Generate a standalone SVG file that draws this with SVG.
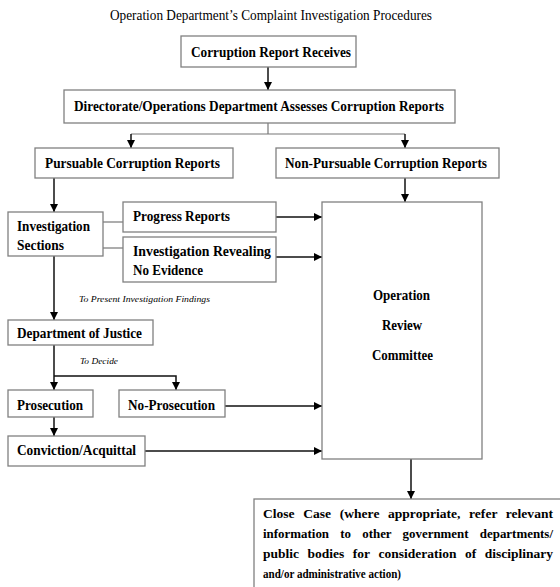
<svg xmlns="http://www.w3.org/2000/svg" width="560" height="587" viewBox="0 0 560 587">
<style>
  .box { fill: #ffffff; stroke: #808080; stroke-width: 1.3; }
  .lbl { font-family: "Liberation Serif", "Times New Roman", serif; font-weight: bold; font-size: 14px; fill: #000; }
  .body { font-family: "Liberation Serif", "Times New Roman", serif; font-weight: bold; font-size: 13px; fill: #000; }
  .title { font-family: "Liberation Serif", "Times New Roman", serif; font-size: 14px; fill: #000; }
  .note { font-family: "Liberation Serif", "Times New Roman", serif; font-style: italic; font-size: 9px; fill: #000; }
  .con { fill: none; stroke: #111; stroke-width: 1.5; }
  .stem { fill: none; stroke: #777; stroke-width: 1.2; }
</style>
<defs>
  <marker id="arr" markerUnits="userSpaceOnUse" markerWidth="8" markerHeight="8" refX="8" refY="4" orient="auto">
    <path d="M0,0 L8,4 L0,8 z" fill="#000"/>
  </marker>
</defs>
<rect width="560" height="587" fill="#ffffff"/>

<text class="title" x="110" y="20" textLength="322" lengthAdjust="spacingAndGlyphs">Operation Department’s Complaint Investigation Procedures</text>

<g id="connectors">
  <line class="con" x1="268" y1="67" x2="268" y2="90" marker-end="url(#arr)"/>
  <polyline class="stem" points="268,123 268,134"/>
  <polyline class="stem" points="131,134 405,134"/>
  <line class="con" x1="131" y1="134" x2="131" y2="148" marker-end="url(#arr)"/>
  <line class="con" x1="405" y1="134" x2="405" y2="148" marker-end="url(#arr)"/>
  <line class="con" x1="54" y1="178" x2="54" y2="212" marker-end="url(#arr)"/>
  <line class="con" x1="405" y1="178" x2="405" y2="202" marker-end="url(#arr)"/>
  <line class="stem" x1="103" y1="222" x2="123" y2="222"/>
  <line class="stem" x1="103" y1="248" x2="123" y2="248"/>
  <line class="con" x1="276" y1="217" x2="322" y2="217" marker-end="url(#arr)"/>
  <line class="con" x1="276" y1="257" x2="322" y2="257" marker-end="url(#arr)"/>
  <line class="con" x1="54" y1="256" x2="54" y2="320" marker-end="url(#arr)"/>
  <line class="con" x1="54" y1="345" x2="54" y2="390" marker-end="url(#arr)"/>
  <polyline class="con" points="54,376 176,376 176,390" marker-end="url(#arr)"/>
  <line class="con" x1="225" y1="406" x2="322" y2="406" marker-end="url(#arr)"/>
  <line class="con" x1="54" y1="417" x2="54" y2="436" marker-end="url(#arr)"/>
  <line class="con" x1="145" y1="451" x2="322" y2="451" marker-end="url(#arr)"/>
  <line class="con" x1="411" y1="459" x2="411" y2="499" marker-end="url(#arr)"/>
  <text class="note" x="79" y="302" textLength="131" lengthAdjust="spacingAndGlyphs">To Present Investigation Findings</text>
  <text class="note" x="80" y="364" textLength="38" lengthAdjust="spacingAndGlyphs">To Decide</text>
</g>

<g id="n-receive">
  <rect class="box" x="181" y="36" width="175" height="31"/>
  <text class="lbl" x="191" y="57" textLength="160" lengthAdjust="spacingAndGlyphs">Corruption Report Receives</text>
</g>
<g id="n-assess">
  <rect class="box" x="64" y="90" width="391" height="33"/>
  <text class="lbl" x="74" y="111" textLength="370" lengthAdjust="spacingAndGlyphs">Directorate/Operations Department Assesses Corruption Reports</text>
</g>
<g id="n-pursuable">
  <rect class="box" x="35" y="148" width="198" height="30"/>
  <text class="lbl" x="45" y="168" textLength="175" lengthAdjust="spacingAndGlyphs">Pursuable Corruption Reports</text>
</g>
<g id="n-nonpursuable">
  <rect class="box" x="276" y="148" width="223" height="30"/>
  <text class="lbl" x="285" y="168" textLength="202" lengthAdjust="spacingAndGlyphs">Non-Pursuable Corruption Reports</text>
</g>
<g id="n-investigation">
  <rect class="box" x="8" y="212" width="95" height="44"/>
  <text class="lbl" x="17" y="231" textLength="73" lengthAdjust="spacingAndGlyphs">Investigation</text>
  <text class="lbl" x="17" y="250" textLength="47" lengthAdjust="spacingAndGlyphs">Sections</text>
</g>
<g id="n-progress">
  <rect class="box" x="123" y="202" width="153" height="30"/>
  <text class="lbl" x="133" y="221" textLength="97" lengthAdjust="spacingAndGlyphs">Progress Reports</text>
</g>
<g id="n-noevidence">
  <rect class="box" x="123" y="237" width="153" height="45"/>
  <text class="lbl" x="133" y="256" textLength="138" lengthAdjust="spacingAndGlyphs">Investigation Revealing</text>
  <text class="lbl" x="133" y="275" textLength="70" lengthAdjust="spacingAndGlyphs">No Evidence</text>
</g>
<g id="n-committee">
  <rect class="box" x="322" y="202" width="160" height="257"/>
  <text class="lbl" x="373" y="300" textLength="57" lengthAdjust="spacingAndGlyphs">Operation</text>
  <text class="lbl" x="382" y="330" textLength="40" lengthAdjust="spacingAndGlyphs">Review</text>
  <text class="lbl" x="372" y="360" textLength="61" lengthAdjust="spacingAndGlyphs">Committee</text>
</g>
<g id="n-justice">
  <rect class="box" x="8" y="320" width="145" height="25"/>
  <text class="lbl" x="17" y="338" textLength="125" lengthAdjust="spacingAndGlyphs">Department of Justice</text>
</g>
<g id="n-prosecution">
  <rect class="box" x="8" y="390" width="85" height="27"/>
  <text class="lbl" x="17" y="410" textLength="66" lengthAdjust="spacingAndGlyphs">Prosecution</text>
</g>
<g id="n-noprosecution">
  <rect class="box" x="119" y="390" width="106" height="27"/>
  <text class="lbl" x="128" y="410" textLength="87" lengthAdjust="spacingAndGlyphs">No-Prosecution</text>
</g>
<g id="n-conviction">
  <rect class="box" x="8" y="436" width="137" height="30"/>
  <text class="lbl" x="17" y="455" textLength="119" lengthAdjust="spacingAndGlyphs">Conviction/Acquittal</text>
</g>
<g id="n-close">
  <rect class="box" x="254" y="499" width="330" height="110"/>
  <text class="body" x="263" y="518" word-spacing="5" textLength="290" lengthAdjust="spacingAndGlyphs">Close Case (where appropriate, refer relevant</text>
  <text class="body" x="263" y="538" word-spacing="8" textLength="290" lengthAdjust="spacingAndGlyphs">information to other government departments/</text>
  <text class="body" x="263" y="558" word-spacing="5" textLength="290" lengthAdjust="spacingAndGlyphs">public bodies for consideration of disciplinary</text>
  <text class="body" x="263" y="578" textLength="138" lengthAdjust="spacingAndGlyphs">and/or administrative action)</text>
</g>
</svg>
